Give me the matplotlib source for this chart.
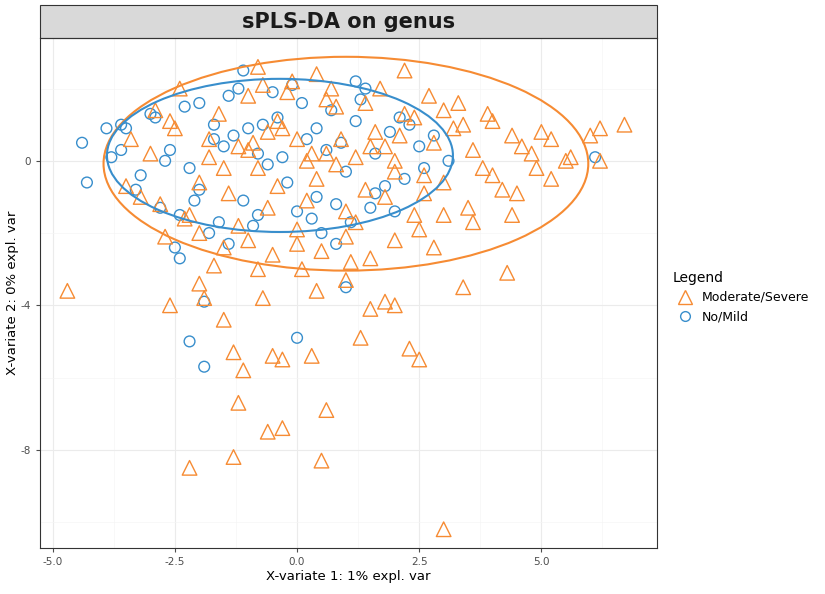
import matplotlib.pyplot as plt
from matplotlib.patches import Ellipse, Rectangle
from matplotlib.lines import Line2D

plt.rcParams['axes.unicode_minus'] = False

# Moderate/Severe component scores (subset of dense core)
sev_x = [-4.7, -2.2, -1.3, 0.5, 3.0, -1.2, -1.1, -0.6, -0.3, 0.6, -0.5, -0.3, 0.3, -1.3, 1.3,
         2.3, 2.5, 3.4, 4.3, -2.6, -1.5, -1.9, -0.7, 0.4, 1.0, 1.8, 2.0, -2.0, 1.5, 6.7,
         6.2, 6.0, 6.2, 5.5, 5.2, 4.4, 5.0, -0.8, 0.4, 2.2, -2.4, -3.5, -3.4, -2.7,
         -3.0, -2.5, -2.0, -1.6, -1.2, -0.8, -0.4, 0.0, 0.4, 0.8, 1.2, 1.6, 2.0, 2.4, 2.8, 3.2,
         3.6, 4.0, 4.4, 4.8, 5.2, -2.8, -2.2, -1.8, -1.4, -1.0, -0.6, -0.2, 0.2, 0.6, 1.0, 1.4,
         1.8, 2.2, 2.6, 3.0, 3.4, 3.8, 4.2, 4.6, -2.6, -2.0, -1.5, -1.0, -0.5, 0.0, 0.5, 1.0,
         1.5, 2.0, 2.5, 3.0, 3.5, 4.0, -1.8, -1.2, -0.6, 0.0, 0.6, 1.2, 1.8, 2.4, 3.0, -1.0,
         -0.4, 0.2, 0.8, 1.4, 2.0, 2.6, -1.5, -0.9, -0.3, 0.3, 0.9, 1.5, 2.1, -2.3, -1.7, -0.8,
         0.1, 1.1, 2.8, 3.6, 4.5, -3.2, -2.9, 4.9, 5.6, 3.9, 3.3, 2.7, -0.1, -0.7, 0.7, 1.7]
sev_y = [-3.6, -8.5, -8.2, -8.3, -10.2, -6.7, -5.8, -7.5, -7.4, -6.9, -5.4, -5.5, -5.4, -5.3, -4.9,
         -5.2, -5.5, -3.5, -3.1, -4.0, -4.4, -3.8, -3.8, -3.6, -3.3, -3.9, -4.0, -3.4, -4.1, 1.0,
         0.9, 0.7, 0.0, 0.0, -0.5, -1.5, 0.8, 2.6, 2.4, 2.5, 2.0, -0.7, 0.6, -2.1,
         0.2, 0.9, -0.6, 1.3, 0.4, -0.2, 1.1, 0.6, -0.5, 1.5, 0.1, 0.8, -0.3, 1.2, 0.5, 0.9,
         0.3, -0.4, 0.7, 0.2, 0.6, -1.2, -1.5, 0.1, -0.9, 1.8, -1.3, 1.9, -1.1, 1.7, -1.4, 1.6,
         -1.0, 1.3, -0.9, -0.6, 1.0, -0.2, -0.8, 0.4, 1.1, -2.0, -2.4, -2.2, -2.6, -2.3, -2.5, -2.1,
         -2.7, -2.2, -1.9, -1.5, -1.3, 1.1, 0.6, -1.8, 0.8, -1.9, 0.2, -1.7, 0.4, -1.5, 1.4, 0.3,
         -0.7, 0.0, -0.1, -0.8, 0.0, -0.4, -0.2, 0.5, 0.9, 0.2, 0.6, 0.4, 0.7, -1.6, -2.9, -3.0,
         -3.0, -2.8, -2.4, -1.7, -0.9, -1.0, 1.4, -0.2, 0.1, 1.3, 1.6, 1.8, 2.2, 2.1, 2.0, 2.0]

# No/Mild component scores
mild_x = [-4.4, -4.3, -3.9, -3.6, -2.2, -1.9, -1.9, 0.0, 1.0, -2.4, 6.1, -1.1, 1.2,
          -3.8, -3.5, -3.2, -2.9, -2.6, -2.3, -2.0, -1.7, -1.4, -1.1, -0.8, -0.5, -0.2, 0.1,
          0.4, 0.7, 1.0, 1.3, 1.6, 1.9, 2.2, 2.5, 2.8, -3.3, -2.8, -2.4, -2.0, -1.6, -1.2,
          -0.8, -0.4, 0.0, 0.4, 0.8, 1.2, 1.6, 2.0, -2.7, -2.2, -1.8, -1.3, -0.9, -0.3,
          0.3, 0.9, 1.5, 2.6, -2.5, -1.5, -0.6, 0.6, 1.8, -3.0, -1.0, 0.2, 1.4, 2.3,
          -2.1, -1.4, -0.7, 0.5, 1.1, 3.1, -3.6, -1.7, -0.1, 0.8, 2.1]
mild_y = [0.5, -0.6, 0.9, 0.3, -5.0, -5.7, -3.9, -4.9, -3.5, -2.7, 0.1, 2.5, 2.2,
          0.1, 0.9, -0.4, 1.2, 0.3, 1.5, -0.8, 0.6, 1.8, -1.1, 0.2, 1.9, -0.6, 1.6,
          -1.0, 1.4, -0.3, 1.7, -0.9, 0.8, -0.5, 0.4, 0.7, -0.8, -1.3, -1.5, 1.6, -1.7,
          2.0, -1.5, 1.2, -1.4, 0.9, -1.2, 1.1, 0.2, -1.4, 0.0, -0.2, -2.0, 0.7, -1.8,
          0.1, -1.6, 0.5, -1.3, -0.2, -2.4, 0.4, -0.1, 0.3, -0.7, 1.3, 0.9, 0.6, 2.0, 1.0,
          -1.1, -2.3, 1.0, -2.0, -1.7, 0.0, 1.0, 1.0, 2.1, -2.3, 1.2]

orange = '#F68B33'
blue = '#388ECC'

fig = plt.figure(figsize=(8.25, 5.94), dpi=100)
ax = fig.add_axes([0.0485, 0.0774, 0.7475, 0.8586])

ax.scatter(mild_x, mild_y, s=60, marker='o', facecolors='none', edgecolors=blue, linewidths=1.0, zorder=3)
ax.scatter(sev_x, sev_y, s=110, marker='^', facecolors='none', edgecolors=orange, linewidths=1.0, zorder=4)

ax.add_patch(Ellipse((1.0, -0.08), 9.92, 5.92, fill=False, edgecolor=orange, lw=1.5, zorder=5))
ax.add_patch(Ellipse((-0.35, 0.15), 7.08, 4.24, fill=False, edgecolor=blue, lw=1.5, zorder=5))

ax.set_xlim(-5.26, 7.36)
ax.set_ylim(-10.72, 3.4)
ax.set_xticks([-5, -2.5, 0, 2.5, 5])
ax.set_xticklabels(['-5.0', '-2.5', '0.0', '2.5', '5.0'])
ax.set_xticks([-3.75, -1.25, 1.25, 3.75, 6.25], minor=True)
ax.set_yticks([-8, -4, 0])
ax.set_yticks([-10, -6, -2, 2], minor=True)
ax.grid(True, which='major', color='#EBEBEB', lw=0.8)
ax.grid(True, which='minor', color='#F5F5F5', lw=0.5)
ax.set_axisbelow(True)
ax.tick_params(which='both', labelsize=7.5, colors='#4D4D4D', length=3)
ax.tick_params(which='minor', length=0)
for s in ax.spines.values():
    s.set_color('#333333')
ax.set_xlabel('X-variate 1: 1% expl. var', fontsize=9.5, labelpad=2)
ax.set_ylabel('X-variate 2: 0% expl. var', fontsize=9.5, labelpad=1)

# title strip
ax.add_patch(Rectangle((0, 1.0), 1, 33 / 510, transform=ax.transAxes, facecolor='#D9D9D9',
                       edgecolor='#333333', lw=0.8, clip_on=False))
ax.text(0.5, 1 + 16.5 / 510, 'sPLS-DA on genus', transform=ax.transAxes, ha='center', va='center',
        fontsize=15, fontweight='bold', color='#1A1A1A')

handles = [Line2D([], [], marker='^', ls='', markerfacecolor='none', markeredgecolor=orange, markersize=10),
           Line2D([], [], marker='o', ls='', markerfacecolor='none', markeredgecolor=blue, markersize=7)]
fig.legend(handles, ['Moderate/Severe', 'No/Mild'], title='Legend', loc='center left',
           bbox_to_anchor=(0.805, 0.5), frameon=False, fontsize=9, title_fontsize=10,
           alignment='left', handletextpad=0.3, borderpad=0.2)

fig.savefig('out.png', dpi=100)
